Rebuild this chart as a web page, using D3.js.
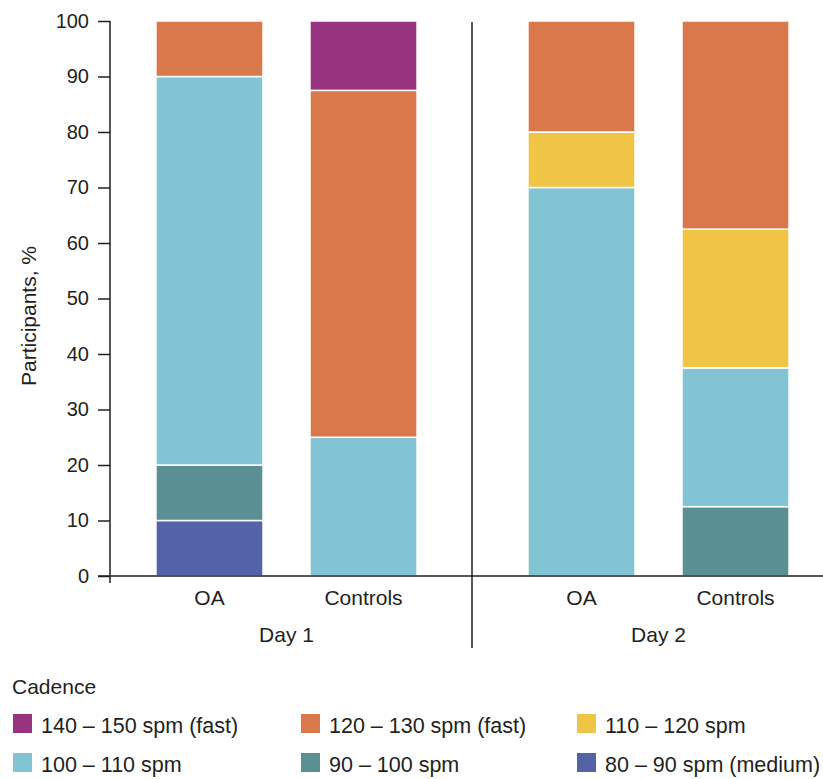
<!DOCTYPE html>
<html><head><meta charset="utf-8">
<script src="https://cdn.jsdelivr.net/npm/d3@7"></script>
<style>body{margin:0;background:#fff}svg text{font-family:"Liberation Sans",Arial,sans-serif;fill:#231f20}</style>
</head><body><svg id="c" width="823" height="779"></svg>
<script>
const days = ["Day 1", "Day 2"];
const groups = ["OA", "Controls"];
const series = ["80 – 90 spm (medium)", "90 – 100 spm", "100 – 110 spm", "110 – 120 spm", "120 – 130 spm (fast)", "140 – 150 spm (fast)"];
const colors = ["#5462a8", "#5a8f93", "#82c4d4", "#f0c545", "#d9784a", "#97337f"];
// values per bar, order of series
const day1OA = [10, 10, 70, 0, 10, 0];
const day1Controls = [0, 0, 25, 0, 62.5, 12.5];
const day2OA = [0, 0, 70, 10, 20, 0];
const day2Controls = [0, 12.5, 25, 25, 37.5, 0];
const yTicks = [0,10,20,30,40,50,60,70,80,90,100];
const legendOrder = ["140 – 150 spm (fast)", "120 – 130 spm (fast)", "110 – 120 spm", "100 – 110 spm", "90 – 100 spm", "80 – 90 spm (medium)"];

const bars = [
  {day:"Day 1", group:"OA", vals:day1OA},
  {day:"Day 1", group:"Controls", vals:day1Controls},
  {day:"Day 2", group:"OA", vals:day2OA},
  {day:"Day 2", group:"Controls", vals:day2Controls}
];

const svg = d3.select("#c");
const y = d3.scaleLinear().domain([0,100]).range([576,21]);
const xDay = d3.scaleBand().domain(days).range([100.5, 844.5]).padding(0);
const xGrp = d3.scaleBand().domain(groups).range([0, xDay.bandwidth()]).paddingInner(0.305).paddingOuter(0.36);
const color = d3.scaleOrdinal().domain(series).range(colors);

// bars
bars.forEach(b => {
  let acc = 0;
  const x0 = xDay(b.day) + xGrp(b.group);
  b.vals.forEach((v,i) => {
    if (v > 0) {
      svg.append("rect").attr("x", x0).attr("width", xGrp.bandwidth())
        .attr("y", y(acc+v)).attr("height", y(acc)-y(acc+v))
        .attr("fill", colors[i]).attr("stroke", "#fff").attr("stroke-width", 1.5);
    }
    acc += v;
  });
});

// y axis
const ya = svg.append("g").attr("transform","translate(110,0)")
  .call(d3.axisLeft(y).tickValues(yTicks).tickSize(12).tickPadding(9));
ya.select(".domain").attr("stroke","#231f20").attr("stroke-width",1.5).attr("d","M0,21V583");
ya.selectAll(".tick line").attr("stroke","#231f20").attr("stroke-width",1.5);
ya.selectAll("text").style("font-size","20px").style("font-family","Liberation Sans, Arial, sans-serif").attr("fill","#231f20");

// x baseline
svg.append("line").attr("x1",98).attr("x2",823).attr("y1",576).attr("y2",576).attr("stroke","#231f20").attr("stroke-width",1.5);
// divider
svg.append("line").attr("x1",472).attr("x2",472).attr("y1",22).attr("y2",648).attr("stroke","#231f20").attr("stroke-width",1.5);

// category labels
bars.forEach(b => {
  svg.append("text").attr("x", xDay(b.day)+xGrp(b.group)+xGrp.bandwidth()/2).attr("y",605)
    .attr("text-anchor","middle").style("font-size","21px").text(b.group);
});
days.forEach(d => {
  svg.append("text").attr("x", xDay(d)+xGrp("OA")+(xGrp("Controls")+xGrp.bandwidth()-xGrp("OA"))/2).attr("y",642)
    .attr("text-anchor","middle").style("font-size","21px").text(d);
});

// y title
svg.append("text").attr("transform","translate(36,316) rotate(-90)").attr("text-anchor","middle")
  .style("font-size","21px").text("Participants, %");

// legend
svg.append("text").attr("x",12).attr("y",694).style("font-size","21px").text("Cadence");
const colX = [13, 301, 577];
legendOrder.forEach((s,i) => {
  const cx = colX[i%3], top = i<3 ? 714 : 753;
  svg.append("rect").attr("x",cx).attr("y",top).attr("width",19).attr("height",19).attr("fill",color(s));
  svg.append("text").attr("x",cx+28).attr("y",top+19).style("font-size","21.5px").text(s);
});
</script></body></html>
